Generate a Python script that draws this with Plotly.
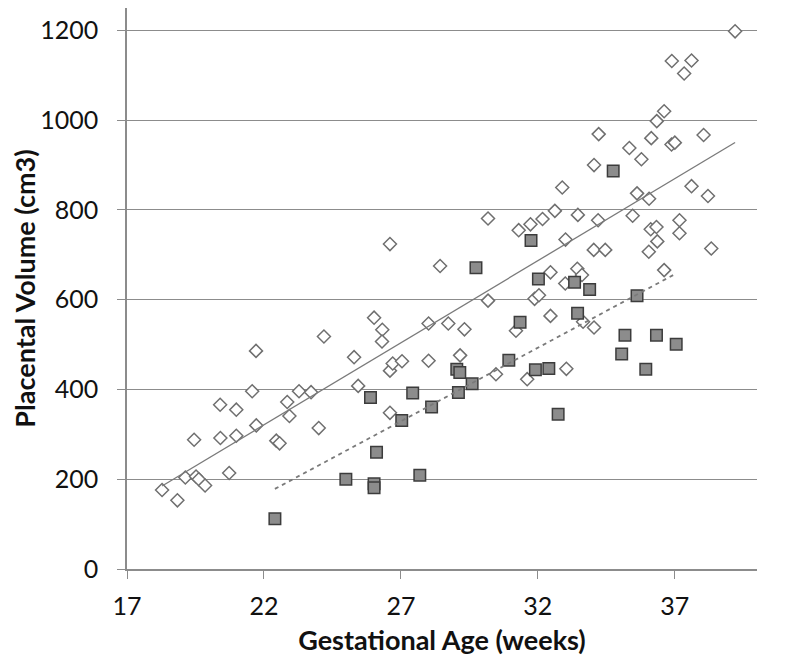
import numpy as np
import plotly.graph_objects as go

# Series 1: open diamonds (gestational age in weeks, placental volume in cm3)
diamond_age = [18.28, 18.84, 19.13, 19.52, 19.62, 19.85, 19.45, 20.40, 20.41, 20.73,
               20.99, 20.99, 21.57, 21.71, 21.72, 22.45, 22.57, 22.85, 22.93, 23.28,
               23.72, 24.00, 24.19, 25.29, 25.44, 26.02, 26.32, 26.31, 26.60, 26.70,
               26.60, 26.60, 27.04, 28.01, 28.01, 28.43, 28.73, 29.16, 29.32, 30.18,
               30.18, 30.47, 31.20, 31.30, 31.61, 31.73, 31.88, 32.04, 32.17, 32.46,
               32.46, 32.62, 32.89, 33.00, 33.04, 33.01, 33.44, 33.61, 33.46, 33.65,
               34.05, 34.05, 34.04, 34.22, 34.20, 34.46, 35.34, 35.46, 35.62, 35.78,
               36.05, 36.06, 36.12, 36.14, 36.33, 36.34, 36.36, 36.61, 36.61, 36.88,
               36.89, 37.00, 37.17, 37.17, 37.34, 37.61, 37.61, 38.05, 38.21, 38.33,
               39.20]
diamond_volume = [176, 153, 204, 206, 200, 186, 288, 366, 292, 214,
                  355, 297, 396, 486, 320, 286, 280, 372, 341, 396,
                  394, 314, 518, 472, 408, 560, 533, 507, 442, 458,
                  348, 724, 463, 547, 464, 675, 547, 476, 534, 598,
                  781, 434, 531, 755, 423, 768, 602, 610, 780, 564,
                  661, 798, 850, 636, 446, 734, 669, 655, 789, 551,
                  900, 538, 711, 969, 777, 711, 938, 787, 837, 913,
                  707, 825, 757, 960, 762, 998, 730, 1020, 666, 946,
                  1132, 950, 777, 748, 1104, 1133, 853, 967, 831, 714,
                  1198]

# Series 2: filled squares
square_age = [22.40, 24.99, 25.89, 26.02, 26.02, 26.11, 27.03, 27.43, 27.69, 28.12,
              29.04, 29.15, 29.10, 29.60, 29.74, 30.94, 31.35, 31.75, 31.91, 32.02,
              32.40, 32.74, 33.34, 33.45, 33.89, 34.75, 35.06, 35.18, 35.62, 35.94,
              36.33, 37.05]
square_volume = [112, 200, 382, 190, 181, 260, 331, 392, 209, 361,
                 445, 438, 393, 413, 671, 465, 550, 732, 444, 646,
                 447, 345, 639, 570, 623, 887, 479, 521, 609, 445,
                 521, 501]

x_ticks = [17, 22, 27, 32, 37]
y_ticks = [0, 200, 400, 600, 800, 1000, 1200]

FONT = "Lato"

def trend(xs, ys):
    xs = np.asarray(xs, float)
    ys = np.asarray(ys, float)
    k, b = np.polyfit(xs, ys, 1)
    xr = np.array([xs.min(), xs.max()])
    return xr, k * xr + b

fig = go.Figure()

fig.add_trace(go.Scatter(
    x=diamond_age, y=diamond_volume, mode="markers",
    marker=dict(symbol="diamond", size=10, color="white",
                line=dict(color="#6f6f6f", width=1.5)),
    showlegend=False, hoverinfo="skip"))

fig.add_trace(go.Scatter(
    x=square_age, y=square_volume, mode="markers",
    marker=dict(symbol="square", size=11.5, color="#8c8c8c",
                line=dict(color="#3c3c3c", width=1.5)),
    showlegend=False, hoverinfo="skip"))

tx, ty = trend(diamond_age, diamond_volume)
fig.add_trace(go.Scatter(x=tx, y=ty, mode="lines",
                         line=dict(color="#7a7a7a", width=1.3),
                         showlegend=False, hoverinfo="skip"))
sx, sy = trend(square_age, square_volume)
fig.add_trace(go.Scatter(x=sx, y=sy, mode="lines",
                         line=dict(color="#7a7a7a", width=1.8, dash="4px,4px"),
                         showlegend=False, hoverinfo="skip"))

fig.update_layout(
    width=792, height=656,
    margin=dict(l=119, r=43, t=0, b=95),
    paper_bgcolor="white", plot_bgcolor="white",
    font=dict(family=FONT, color="#111111"),
)

fig.update_xaxes(
    range=[17, 40], tickvals=x_ticks, ticktext=[str(v) for v in x_ticks],
    showgrid=False, zeroline=False,
    showline=True, linecolor="#8c8c8c", linewidth=1.5,
    ticks="outside", ticklen=8, tickwidth=1.3, tickcolor="#8c8c8c",
    tickfont=dict(family=FONT, size=25, color="#111111"),
    ticklabelstandoff=6,
    title=dict(text="<b>Gestational Age (weeks)</b>",
               font=dict(family=FONT, size=27, color="#111111"), standoff=12),
)

fig.update_yaxes(
    range=[0, 1250], tickvals=y_ticks, ticktext=[str(v) for v in y_ticks],
    showgrid=True, gridcolor="#8c8c8c", gridwidth=1.3, zeroline=False,
    showline=True, linecolor="#8c8c8c", linewidth=1.5,
    ticks="outside", ticklen=8, tickwidth=1.3, tickcolor="#8c8c8c",
    tickfont=dict(family=FONT, size=25, color="#111111"),
    ticklabelstandoff=14,
    title=dict(text="<b>Placental Volume (cm3)</b>",
               font=dict(family=FONT, size=27, color="#111111"), standoff=5),
)

fig.write_html("out.html")
